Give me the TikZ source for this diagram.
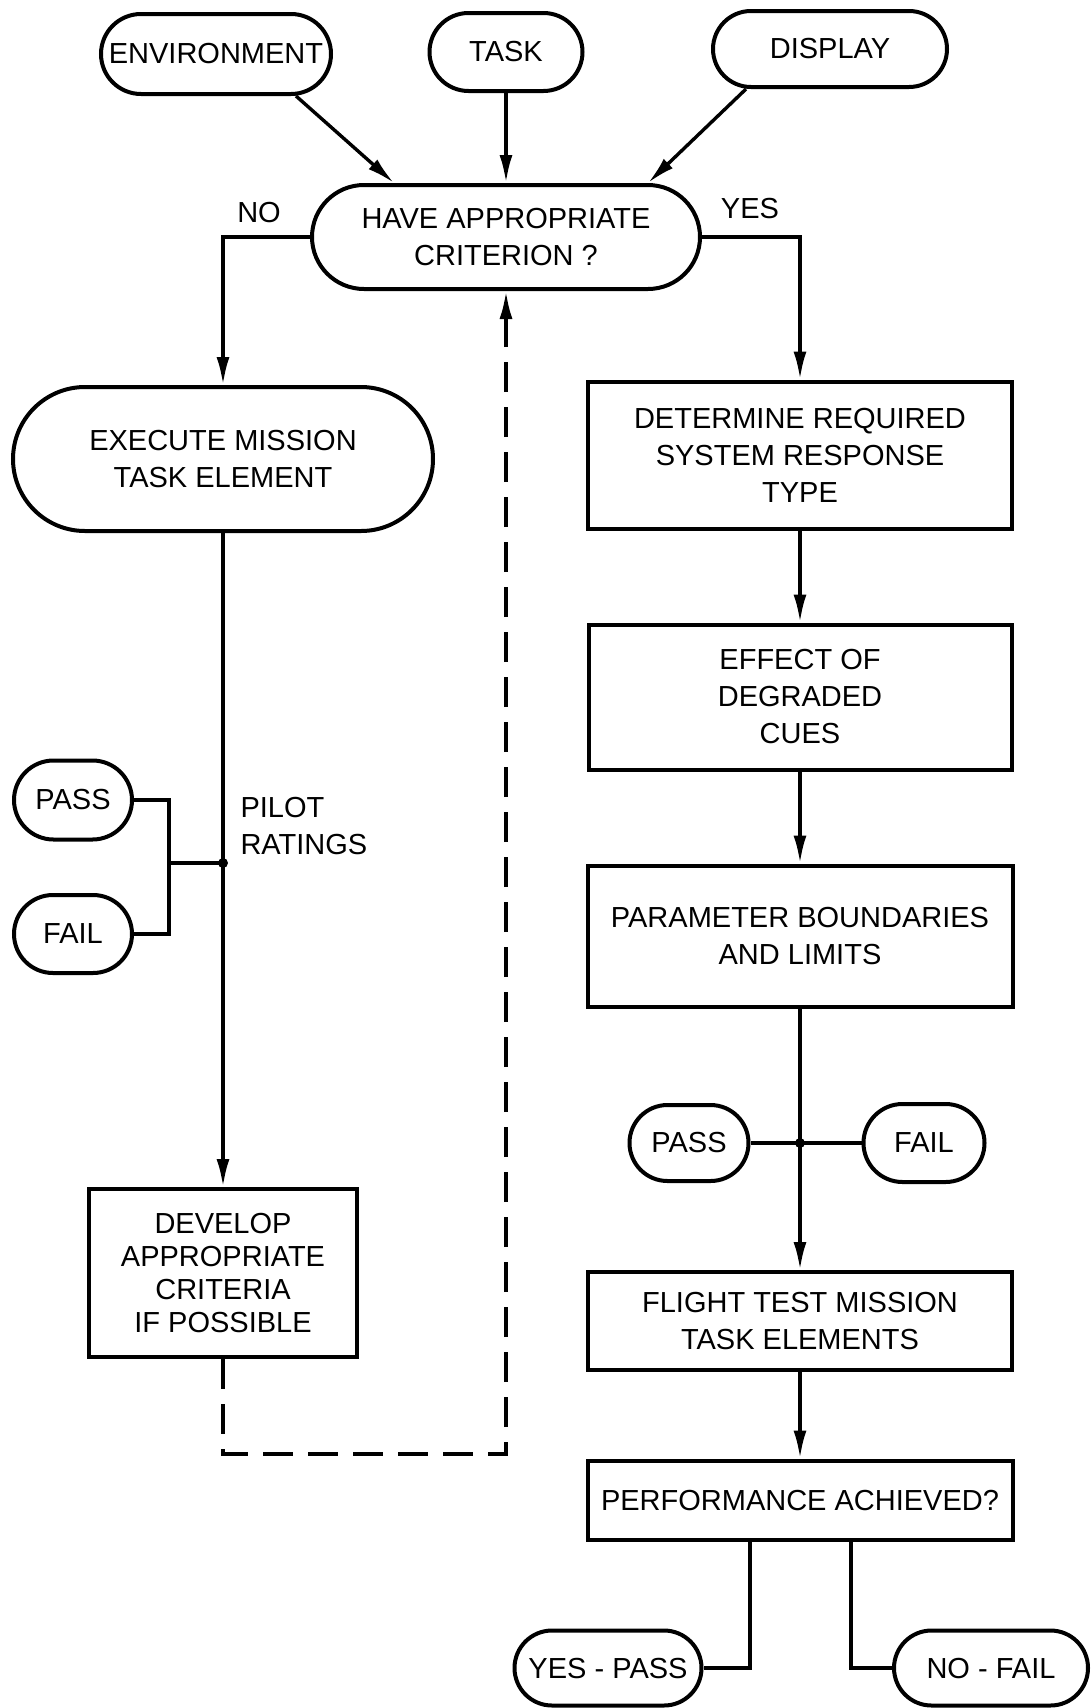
\documentclass[tikz,border=0pt]{standalone}
\usepackage{fontspec}
\setmainfont{Liberation Sans}
\usetikzlibrary{shapes.misc,arrows.meta}
\tikzset{
  term/.style={draw,rounded rectangle,line width=4pt,align=center,inner sep=0pt},
  block/.style={draw,rectangle,line width=4pt,align=center,inner sep=0pt},
  link/.style={line width=3.4pt},
  arr/.style={link,-{Latex[length=28pt,width=13pt]}},
  back/.style={arr,dash pattern=on 30pt off 15pt},
}
\begin{document}
\begin{tikzpicture}[x=1pt,y=-1pt,font=\fontsize{29}{37}\selectfont]
\useasboundingbox (0,0) rectangle (1091,1708);
% Inputs and the criterion question
\node[term,minimum width=230pt,minimum height=80pt] (env) at (216,54) {ENVIRONMENT};
\node[term,minimum width=153pt,minimum height=78pt] (task) at (506,52) {TASK};
\node[term,minimum width=234pt,minimum height=76pt] (disp) at (830,49) {DISPLAY};
\node[term,minimum width=388pt,minimum height=104pt] (crit) at (506,237) {HAVE APPROPRIATE\\CRITERION ?};
\draw[arr] ([xshift=80pt]env.south) -- ([xshift=-112pt]crit.north);
\draw[arr] (task.south) -- (crit.north);
\draw[arr] ([xshift=-84pt]disp.south) -- ([xshift=142pt]crit.north);
\node (no) at (259,213) {NO};
\node (yes) at (750,209) {YES};
% Left branch: pilot ratings
\node[term,minimum width=420pt,minimum height=144pt] (exec) at (223,459) {EXECUTE MISSION\\TASK ELEMENT};
\node[term,minimum width=118pt,minimum height=79pt] (pass1) at (73,800) {PASS};
\node[term,minimum width=118pt,minimum height=78pt] (fail1) at (73,934) {FAIL};
\node[block,minimum width=268pt,minimum height=168pt,font=\fontsize{29}{33}\selectfont] (dev) at (223,1273) {DEVELOP\\APPROPRIATE\\CRITERIA\\IF POSSIBLE};
\node[anchor=west,align=left] (pilot) at (237,826) {PILOT\\RATINGS};
\coordinate (brk) at (169,863);
\coordinate (pr) at (223,863);
\coordinate (ret) at (506,1454);
\draw[arr] (crit.west) -| (exec.north);
\draw[arr] (exec.south) -- (dev.north);
\draw[link] (pass1.east) -| (brk) |- (fail1.east);
\draw[link] (brk) -- (pr);
\fill (pr) circle (5pt);
\draw[back] (dev.south) |- (ret) -- (crit.south);
% Right branch
\node[block,minimum width=424pt,minimum height=147pt] (det) at (800,455) {DETERMINE REQUIRED\\SYSTEM RESPONSE\\TYPE};
\node[block,minimum width=423pt,minimum height=145pt] (eff) at (800,697) {EFFECT OF\\DEGRADED\\CUES};
\node[block,minimum width=425pt,minimum height=141pt] (par) at (800,936) {PARAMETER BOUNDARIES\\AND LIMITS};
\node[term,minimum width=119pt,minimum height=76pt] (pass2) at (689,1143) {PASS};
\node[term,minimum width=121pt,minimum height=78pt] (fail2) at (924,1143) {FAIL};
\node[block,minimum width=424pt,minimum height=98pt] (flight) at (800,1321) {FLIGHT TEST MISSION\\TASK ELEMENTS};
\node[block,minimum width=425pt,minimum height=79pt] (perf) at (800,1500) {PERFORMANCE ACHIEVED?};
\node[term,minimum width=187pt,minimum height=75pt] (yespass) at (608,1668) {YES - PASS};
\node[term,minimum width=194pt,minimum height=75pt] (nofail) at (991,1668) {NO - FAIL};
\coordinate (pj) at (800,1143);
\draw[arr] (crit.east) -| (det.north);
\draw[arr] (det.south) -- (eff.north);
\draw[arr] (eff.south) -- (par.north);
\draw[arr] (par.south) -- (flight.north);
\draw[link] (pass2.east) -- (pj) -- (fail2.west);
\fill (pj) circle (5pt);
\draw[arr] (flight.south) -- (perf.north);
\draw[link] ([xshift=-50pt]perf.south) |- (yespass.east);
\draw[link] ([xshift=51pt]perf.south) |- (nofail.west);
\end{tikzpicture}
\end{document}
